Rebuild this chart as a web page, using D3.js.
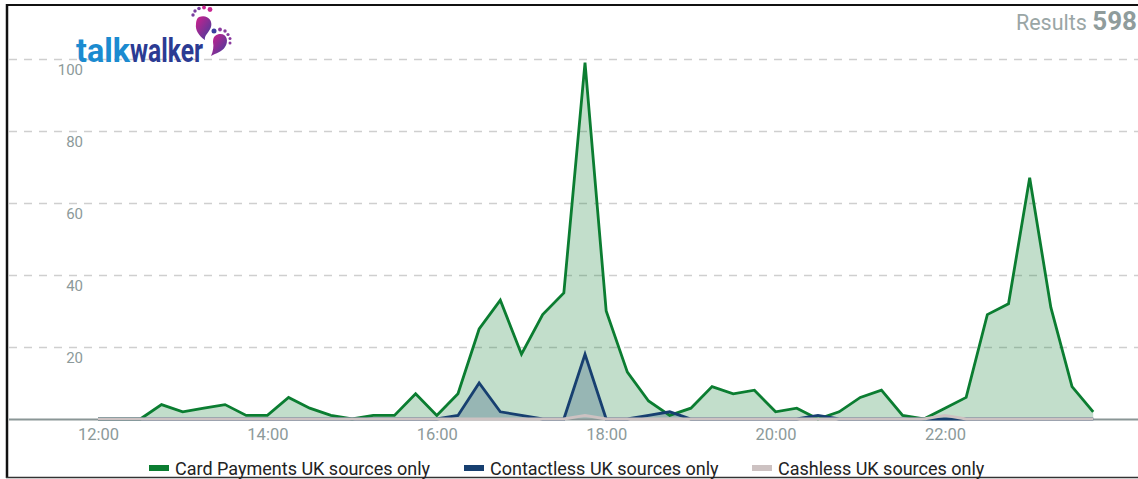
<!DOCTYPE html>
<html><head><meta charset="utf-8">
<script src="https://cdn.jsdelivr.net/npm/d3@7"></script>
<style>
html,body{margin:0;padding:0;background:#fff;}
svg{display:block;font-family:Roboto,"Noto Sans",sans-serif;}
</style></head>
<body><svg id="chart" width="1138" height="479"></svg>
<script>
const times = ["12:00","12:15","12:30","12:45","13:00","13:15","13:30","13:45",
"14:00","14:15","14:30","14:45","15:00","15:15","15:30","15:45",
"16:00","16:15","16:30","16:45","17:00","17:15","17:30","17:45",
"18:00","18:15","18:30","18:45","19:00","19:15","19:30","19:45",
"20:00","20:15","20:30","20:45","21:00","21:15","21:30","21:45",
"22:00","22:15","22:30","22:45","23:00","23:15","23:30","23:45"];
const cardPayments = [0,0,0,4,2,3,4,1, 1,6,3,1,0,1,1,7, 1,7,25,33,18,29,35,99, 30,13,5,1,3,9,7,8, 2,3,0,2,6,8,1,0, 3,6,29,32,67,31,9,2];
const contactless = [0,0,0,0,0,0,0,0, 0,0,0,0,0,0,0,0, 0,1,10,2,1,0,0,18, 0,0,1,2,0,0,0,0, 0,0,1,0,0,0,0,0, 0,0,0,0,0,0,0,0];
const cashless = [0,0,0,0,0,0,0,0, 0,0,0,0,0,0,0,0, 0,0,0,0,0,0,0,1, 0,0,0,0,0,0,0,0, 0,0,0,0,0,0,0,0, 1,0,0,0,0,0,0,0];
const seriesNames = ["Card Payments UK sources only","Contactless UK sources only","Cashless UK sources only"];
const yTicks = [20,40,60,80,100];
const xTickLabels = ["12:00","14:00","16:00","18:00","20:00","22:00"];
const resultsCount = "598";

const svg = d3.select("#chart");
const W = 1138, H = 479;
const parse = d3.timeParse("%H:%M");
const dates = times.map(parse);
const x = d3.scaleTime().domain([parse("12:00"), parse("23:45")]).range([98, 1093.2]);
const y = d3.scaleLinear().domain([0,100]).range([419,59]);

// frame
svg.append("line").attr("x1",7).attr("x2",W).attr("y1",5).attr("y2",5).attr("stroke","#111").attr("stroke-width",2);
svg.append("line").attr("x1",7).attr("x2",7).attr("y1",4).attr("y2",478).attr("stroke","#111").attr("stroke-width",2.5);
svg.append("line").attr("x1",6).attr("x2",W).attr("y1",477.5).attr("y2",477.5).attr("stroke","#333").attr("stroke-width",1.5);

// grid
const grid = svg.append("g");
grid.selectAll("line").data(yTicks).join("line")
  .attr("x1",9).attr("x2",W).attr("y1",d=>Math.round(y(d))+0.5).attr("y2",d=>Math.round(y(d))+0.5)
  .attr("stroke","#cfcfcf").attr("stroke-width",1.3).attr("stroke-dasharray","8,7");
grid.selectAll("text").data(yTicks).join("text")
  .attr("x",83).attr("y",d=>y(d)+16).attr("text-anchor","end")
  .attr("font-size",15).attr("fill","#8c9a9a").text(d=>d);

// baseline axis
svg.append("line").attr("x1",9).attr("x2",W).attr("y1",419.5).attr("y2",419.5).attr("stroke","#8a9696").attr("stroke-width",2);

// x ticks
const xAxis = d3.axisBottom(x).tickValues(xTickLabels.map(parse)).tickFormat(d3.timeFormat("%H:%M")).tickSize(0).tickPadding(8);
const xg = svg.append("g").attr("transform","translate(0,420)").call(xAxis);
xg.select(".domain").remove();
xg.selectAll("text").attr("font-size",16.5).attr("fill","#8c9a9a").attr("font-family","Roboto");

// series
const colors = ["#0b7d31","#173f70","#cdc2c2"];
const fills = ["rgba(11,125,49,0.25)","rgba(23,63,112,0.25)","rgba(205,194,194,0.35)"];
const allSeries = [cardPayments, contactless, cashless];
const area = d3.area().x((d,i)=>x(dates[i])).y0(y(0)).y1(d=>y(d));
const line = d3.line().x((d,i)=>x(dates[i])).y(d=>y(d));
allSeries.forEach((s,k)=>{
  svg.append("path").datum(s).attr("d",area).attr("fill",fills[k]);
});
allSeries.forEach((s,k)=>{
  svg.append("path").datum(s).attr("d",line).attr("fill","none")
    .attr("stroke",colors[k]).attr("stroke-width",2.8).attr("stroke-linejoin","miter");
});

// legend
const legX = [149, 464, 752];
const lg = svg.append("g");
seriesNames.forEach((n,k)=>{
  lg.append("rect").attr("x",legX[k]).attr("y",465).attr("width",20).attr("height",6).attr("fill",colors[k]);
  lg.append("text").attr("x",legX[k]+26).attr("y",475).attr("font-size",18).attr("fill","#222").text(n);
});

// results
const rt = svg.append("text").attr("x",1137).attr("y",30).attr("text-anchor","end");
rt.append("tspan").attr("font-size",21.5).attr("fill","#9aa6a6").text("Results ");
rt.append("tspan").attr("font-size",26).attr("font-weight",700).attr("fill","#8f9c9c").text(resultsCount);

// logo
const logo = svg.append("g");
logo.append("text").attr("x",76).attr("y",62).attr("font-size",34).attr("font-weight",700)
  .attr("fill","#1b8bd0").attr("textLength",54).attr("lengthAdjust","spacingAndGlyphs").text("talk");
logo.append("text").attr("x",130).attr("y",62).attr("font-size",34).attr("font-weight",700)
  .attr("fill","#2b3b93").attr("textLength",73).attr("lengthAdjust","spacingAndGlyphs").text("walker");
// footprints
const defs = svg.append("defs");
const gr = defs.append("linearGradient").attr("id","ft").attr("x1","0").attr("y1","0").attr("x2","1").attr("y2","1");
gr.append("stop").attr("offset","0").attr("stop-color","#d21f8c");
gr.append("stop").attr("offset","1").attr("stop-color","#3b3f9e");
logo.append("path").attr("d","M199,17 C207,14 213,20 211,27 C209,33 204,35 205,40 C199,36 195,30 196,24 C196,21 197,18 199,17 Z").attr("fill","url(#ft)");
[[193,15,1.7],[195,11,1.7],[199,8.5,1.8],[204,7.5,1.9],[210,9.5,2.4]].forEach(c=>logo.append("circle").attr("cx",c[0]).attr("cy",c[1]).attr("r",c[2]).attr("fill",c[0]<200?"#7a3ea0":"#c72590"));
logo.append("path").attr("d","M219,34 C227,33 229,41 225,47 C222,52 216,53 211,56 C213,51 214,47 213,42 C213,37 215,35 219,34 Z").attr("fill","url(#ft)");
[[214,31,2.5],[220,29.5,1.9],[225,31,1.7],[228,34.5,1.6],[230,38.5,1.5],[230,43,1.5]].forEach(c=>logo.append("circle").attr("cx",c[0]).attr("cy",c[1]).attr("r",c[2]).attr("fill",c[0]<218?"#3b3f9e":"#8a3a9e"));
</script></body></html>
